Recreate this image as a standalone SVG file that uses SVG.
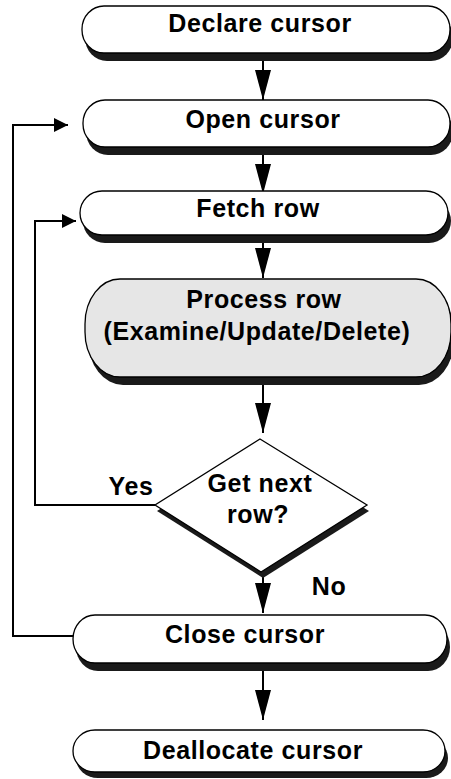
<svg xmlns="http://www.w3.org/2000/svg" width="451" height="779" viewBox="0 0 451 779">
<style>
.box{fill:#fff;stroke:#000;stroke-width:1.3}
.gray{fill:#e6e6e6}
.sh{fill:#1a1a1a}
.t{font-family:"Liberation Sans",Arial,sans-serif;font-weight:bold;font-size:25px;letter-spacing:0.6px;fill:#000;text-anchor:middle}
.c{fill:none;stroke:#000;stroke-width:2}
</style>
<defs>
<marker id="av" markerUnits="userSpaceOnUse" markerWidth="30" markerHeight="16" refX="30" refY="8" orient="auto"><path d="M0,0 L30,8 L0,16 z" fill="#000"/></marker>
<marker id="ah" markerUnits="userSpaceOnUse" markerWidth="14" markerHeight="14" refX="14" refY="7" orient="auto"><path d="M0,0 L14,7 L0,14 z" fill="#000"/></marker>
</defs>
<g id="connectors">
<line class="c" x1="263" y1="53" x2="263" y2="100" marker-end="url(#av)"/>
<line class="c" x1="263" y1="147" x2="263" y2="194" marker-end="url(#av)"/>
<line class="c" x1="263" y1="235" x2="263" y2="278" marker-end="url(#av)"/>
<line class="c" x1="263" y1="385" x2="263" y2="433" marker-end="url(#av)"/>
<line class="c" x1="263" y1="572" x2="263" y2="613" marker-end="url(#av)"/>
<line class="c" x1="263" y1="663" x2="263" y2="720" marker-end="url(#av)"/>
<path class="c" d="M155,505 H35 V221 H76" marker-end="url(#ah)"/>
<path class="c" d="M73,636 H13 V125 H68" marker-end="url(#ah)"/>
</g>
<g id="declare">
<rect class="sh" x="85" y="14" width="368" height="47" rx="22" ry="23"/>
<rect class="box" x="82" y="6" width="368" height="47" rx="22" ry="23"/>
<text class="t" x="260" y="32">Declare cursor</text>
</g>
<g id="open">
<rect class="sh" x="86" y="108" width="367" height="47" rx="22" ry="23"/>
<rect class="box" x="83" y="100" width="367" height="47" rx="22" ry="23"/>
<text class="t" x="263" y="128">Open cursor</text>
</g>
<g id="fetch">
<rect class="sh" x="83" y="199" width="368" height="44" rx="22" ry="22"/>
<rect class="box" x="80" y="191" width="368" height="44" rx="22" ry="22"/>
<text class="t" x="258" y="217">Fetch row</text>
</g>
<g id="process">
<rect class="sh" x="88" y="287" width="366" height="98" rx="35" ry="45"/>
<rect class="box gray" x="85" y="279" width="366" height="98" rx="35" ry="45"/>
<text class="t" x="264" y="308">Process row</text>
<text class="t" x="257" y="340">(Examine/Update/Delete)</text>
</g>
<g id="decision">
<polygon class="sh" points="262,445 369,511 263,578 157,511"/>
<polygon class="box" points="260,439 367,505 261,572 155,505" stroke-width="1"/>
<text class="t" x="260" y="492">Get next</text>
<text class="t" x="258" y="523">row?</text>
</g>
<g id="close">
<rect class="sh" x="76" y="623" width="374" height="48" rx="22" ry="24"/>
<rect class="box" x="73" y="615" width="374" height="48" rx="22" ry="24"/>
<text class="t" x="245" y="643">Close cursor</text>
</g>
<g id="deallocate">
<rect class="sh" x="76" y="738" width="372" height="40" rx="22" ry="20"/>
<rect class="box" x="73" y="730" width="372" height="42" rx="22" ry="21"/>
<text class="t" x="253" y="759">Deallocate cursor</text>
</g>
<g id="labels">
<text class="t" x="131" y="495">Yes</text>
<text class="t" x="329" y="595">No</text>
</g>
</svg>
